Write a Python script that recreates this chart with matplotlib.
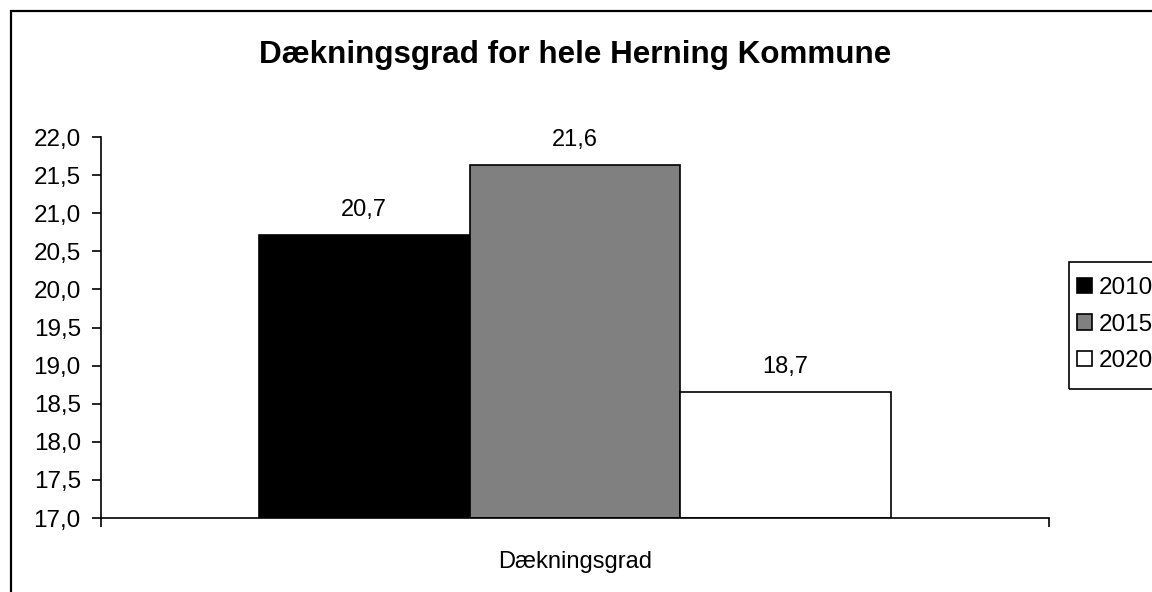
import matplotlib
matplotlib.use("Agg")
import matplotlib.pyplot as plt
from matplotlib.patches import Rectangle

# ~~~~~~~~ data ~~~~~~~~
category = "Dækningsgrad"
years = ["2010", "2015", "2020"]
values = [20.72, 21.63, 18.66]
colors = ["#000000", "#808080", "#ffffff"]
yticks = [17.0, 17.5, 18.0, 18.5, 19.0, 19.5, 20.0, 20.5, 21.0, 21.5, 22.0]

plt.rcParams["font.family"] = ["Liberation Sans", "DejaVu Sans"]

W, H = 1152, 592
fig = plt.figure(figsize=(W / 100, H / 100), dpi=100)

# outer chart frame (right and bottom edges fall outside the picture)
fig.add_artist(Rectangle((11 / W, -0.1), 1.2, 1 - 11 / H + 0.1,
                         transform=fig.transFigure, fill=False,
                         edgecolor="black", linewidth=1.6))

ax = fig.add_axes([101 / W, 1 - 518 / H, (1049 - 101) / W, (518 - 137) / H])

bw = 2 / 9
offsets = [-bw, 0, bw]
for yr, v, c, off in zip(years, values, colors, offsets):
    ax.bar(off, v - 17.0, bottom=17.0, width=bw, color=c, edgecolor="black",
           linewidth=1.2, label=yr)
    ax.annotate(f"{v:.1f}".replace(".", ","), (off, v), xytext=(0, 10),
                textcoords="offset points", ha="center", va="bottom", fontsize=17)

ax.set_xlim(-0.5, 0.5)
ax.set_ylim(17.0, 22.0)
ax.set_yticks(yticks)
ax.set_yticklabels([f"{t:.1f}".replace(".", ",") for t in yticks])
ax.tick_params(axis="y", direction="out", length=6.5, width=1.2, pad=8, labelsize=17.5)

ax.set_xticks([0])
ax.set_xticklabels([category])
ax.tick_params(axis="x", which="major", length=0, pad=24, labelsize=17)
ax.set_xticks([-0.5, 0.5], minor=True)
ax.tick_params(axis="x", which="minor", direction="out", length=6.5, width=1.2)

for s in ["top", "right"]:
    ax.spines[s].set_visible(False)
for s in ["left", "bottom"]:
    ax.spines[s].set_linewidth(1.2)

fig.text(575 / W, 1 - 55 / H, "Dækningsgrad for hele Herning Kommune",
         ha="center", va="center", fontsize=22.6, fontweight="bold")

# legend box (runs past the right edge, as in the original)
fig.add_artist(Rectangle((1069 / W, 1 - 389 / H), 0.2, 127 / H,
                         transform=fig.transFigure, fill=False,
                         edgecolor="black", linewidth=1.2))
leg = ax.legend(loc="upper left", bbox_to_anchor=(1077 / W, 1 - 277 / H),
                bbox_transform=fig.transFigure, fontsize=17.5, frameon=False,
                handlelength=0.6, handleheight=0.6, handletextpad=0.3,
                labelspacing=0.6, borderpad=0, borderaxespad=0)

fig.savefig("out.png", dpi=100)
